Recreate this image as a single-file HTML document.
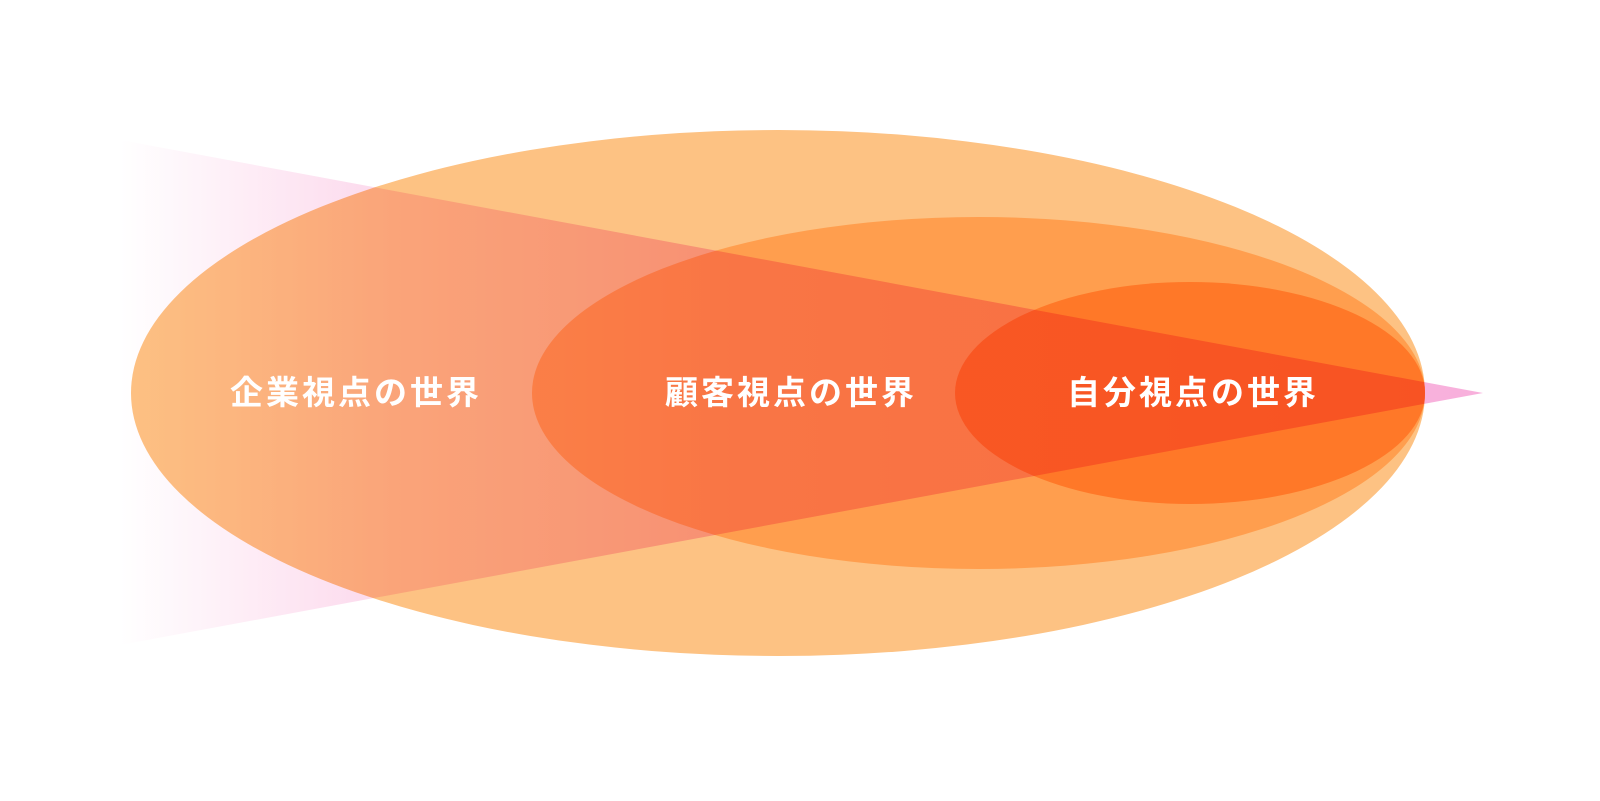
<!DOCTYPE html>
<html><head><meta charset="utf-8"><style>
html,body{margin:0;padding:0;background:#fff;width:1600px;height:801px;overflow:hidden}
svg{display:block}
text{font-family:"Liberation Sans","Noto Sans CJK JP",sans-serif;font-weight:bold;font-size:33px;fill:#fff;letter-spacing:3px}
</style></head><body>
<svg width="1600" height="801" viewBox="0 0 1600 801">
<defs>
<linearGradient id="g" x1="120" y1="0" x2="1483" y2="0" gradientUnits="userSpaceOnUse">
<stop offset="0" stop-color="#ffffff"/>
<stop offset="0.2" stop-color="#fcd8ec"/>
<stop offset="0.45" stop-color="#f9bde0"/>
<stop offset="1" stop-color="#f8b0dc"/>
</linearGradient>
</defs>
<ellipse cx="778" cy="393" rx="647" ry="263" fill="#fdc283"/>
<ellipse cx="978.5" cy="393" rx="446.5" ry="176" fill="#ff9e4e"/>
<ellipse cx="1190" cy="393" rx="235" ry="111" fill="#ff7828"/>
<polygon points="120,140 1483,393 120,645" fill="url(#g)" style="mix-blend-mode:multiply"/>
<text x="230" y="404">企業視点の世界</text>
<text x="665" y="404">顧客視点の世界</text>
<text x="1067" y="404">自分視点の世界</text>
</svg>
</body></html>
